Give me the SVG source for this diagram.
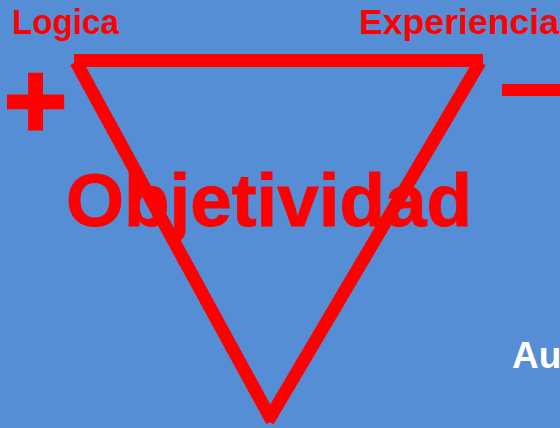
<svg xmlns="http://www.w3.org/2000/svg" width="560" height="428" viewBox="0 0 560 428">
<style>
.t{font-family:"Liberation Sans",Arial,sans-serif;font-weight:bold;fill:#FF0000}
.w{font-family:"Liberation Sans",Arial,sans-serif;font-weight:bold;fill:#FFFFFF}
.ln{stroke:#FF0000;stroke-width:13;fill:none;stroke-linecap:butt}
</style>
<rect x="0" y="0" width="560" height="428" fill="#558ED5"/>
<g id="connectors">
<line class="ln" x1="74" y1="60.5" x2="483" y2="60.5"/>
<line class="ln" x1="76" y1="62" x2="272" y2="421"/>
<line class="ln" x1="480" y1="62" x2="268" y2="421"/>
</g>
<g id="logica"><text class="t" x="12" y="34" font-size="35" textLength="107" lengthAdjust="spacingAndGlyphs">Logica</text></g>
<g id="experiencia"><text class="t" x="359" y="34" font-size="35" textLength="200" lengthAdjust="spacingAndGlyphs">Experiencia</text></g>
<g id="plus"><text class="t" x="4" y="137" font-size="108" stroke="#FF0000" stroke-width="3">+</text></g>
<g id="minus"><text class="t" x="505" y="106" font-size="60" stroke="#FF0000" stroke-width="6">—</text></g>
<g id="objetividad"><text class="t" x="66" y="226" font-size="75" stroke="#FF0000" stroke-width="1" textLength="406" lengthAdjust="spacingAndGlyphs">Objetividad</text></g>
<g id="au"><text class="w" x="512" y="368" font-size="37">Au</text></g>
</svg>
